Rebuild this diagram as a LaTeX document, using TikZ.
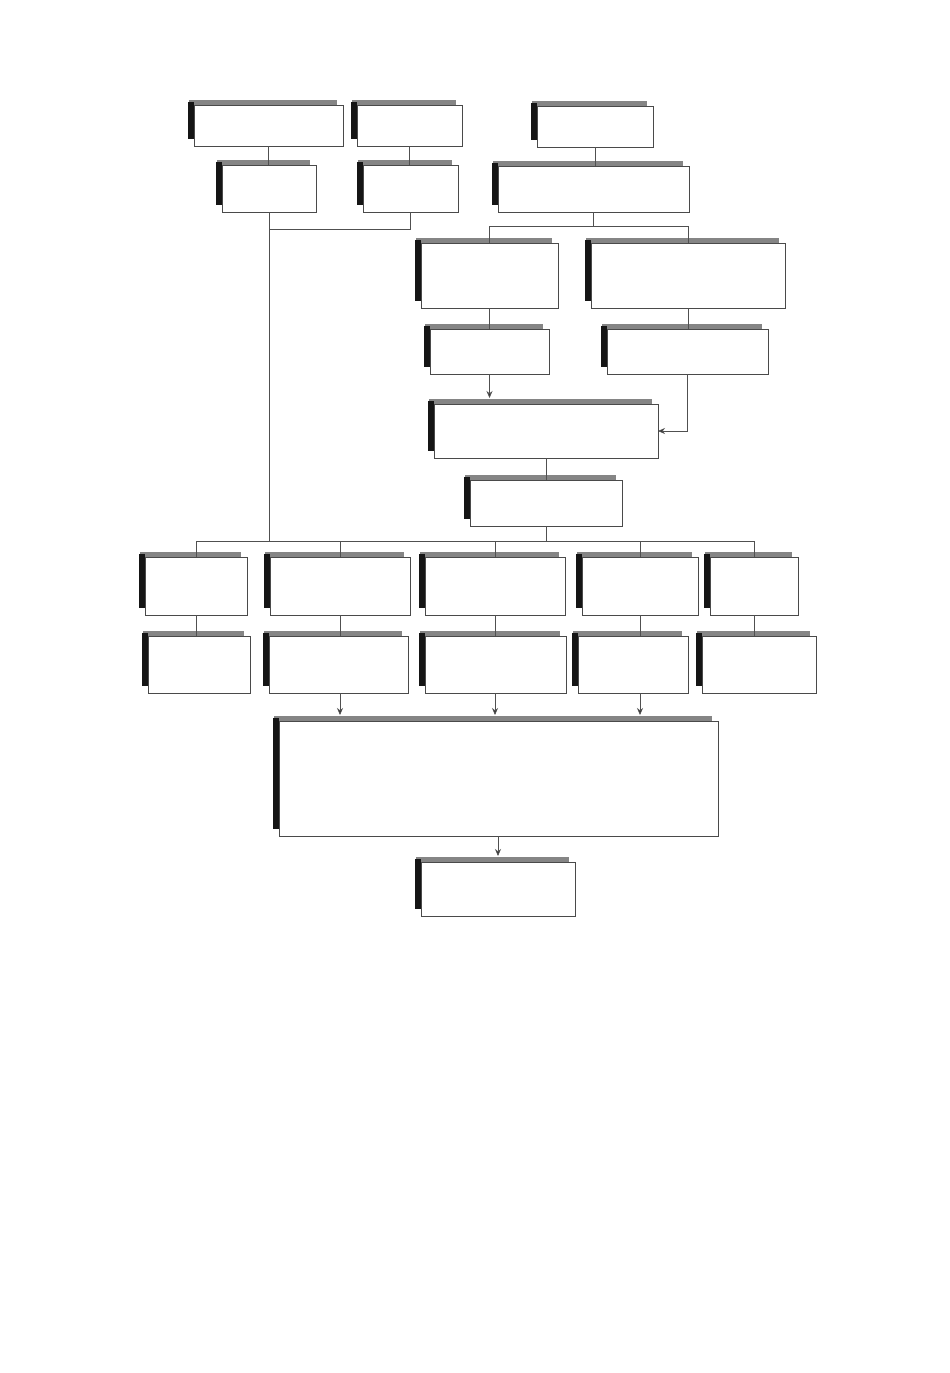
\documentclass[tikz,border=0pt]{standalone}
\usetikzlibrary{arrows.meta}
\definecolor{lncol}{HTML}{505050}
\definecolor{bdcol}{HTML}{4A4A4A}
\definecolor{shtopcol}{HTML}{858585}
\definecolor{shsidecol}{HTML}{151515}
\definecolor{tipcol}{HTML}{333333}
\tikzset{
  bx/.style={draw=bdcol, line width=0.8pt, fill=white, inner sep=0pt, outer sep=0pt, rectangle},
  shtop/.style={fill=shtopcol},
  shside/.style={fill=shsidecol},
  ln/.style={draw=lncol, line width=0.7pt},
  tip/.style={-{Stealth[length=7pt,width=6pt,fill=tipcol]}},
  arr/.style={ln, tip, shorten >=6pt},
}
\newcommand\mkbox[5]{%
  \fill[shtop] ({#2-5},{#3-5}) rectangle ({#4-6},{#3});
  \fill[shside] ({#2-6},{#3-3}) rectangle ({#2},{#5-7});
  \node[bx, minimum width={(#4-#2)*1pt}, minimum height={(#5-#3)*1pt}] (#1) at ({(#2+#4)/2},{(#3+#5)/2}) {};
}
\begin{document}
\begin{tikzpicture}[x=1pt,y=-1pt]
\fill[white] (0,0) rectangle (950,1373);
\useasboundingbox (0,0) rectangle (950,1373);
% boxes
\mkbox{A}{194}{105}{343}{146}
\mkbox{B}{357}{105}{462}{146}
\mkbox{C}{537}{106}{653}{147}
\mkbox{D}{222}{165}{316}{212}
\mkbox{E}{363}{165}{458}{212}
\mkbox{F}{498}{166}{689}{212}
\mkbox{G}{421}{243}{558}{308}
\mkbox{H}{591}{243}{785}{308}
\mkbox{I}{430}{329}{549}{374}
\mkbox{J}{607}{329}{768}{374}
\mkbox{K}{434}{404}{658}{458}
\mkbox{L}{470}{480}{622}{526}
\mkbox{M1}{145}{557}{247}{615}
\mkbox{M2}{270}{557}{410}{615}
\mkbox{M3}{425}{557}{565}{615}
\mkbox{M4}{582}{557}{698}{615}
\mkbox{M5}{710}{557}{798}{615}
\mkbox{N1}{148}{636}{250}{693}
\mkbox{N2}{269}{636}{408}{693}
\mkbox{N3}{425}{636}{566}{693}
\mkbox{N4}{578}{636}{688}{693}
\mkbox{N5}{702}{636}{816}{693}
\mkbox{O}{279}{721}{718}{836}
\mkbox{P}{421}{862}{575}{916}
% junction coordinates
\coordinate (j1) at (0,229);
\coordinate (j2) at (0,226);
\coordinate (bus) at (0,541);
% connectors
\draw[ln] (A.south) -- (A.south |- D.north);
\draw[ln] (B.south) -- (B.south |- E.north);
\draw[ln] (C.south) -- (C.south |- F.north);
\draw[ln] (D.south) -- (D.south |- bus);
\draw[ln] (E.south) |- (D.south |- j1);
\draw[ln] (F.south) -- (F.south |- j2);
\draw[ln] (G.north) |- (j2 -| H.north) -- (H.north);
\draw[ln] (G.south) -- (G.south |- I.north);
\draw[ln] (H.south) -- (H.south |- J.north);
\draw[arr] (I.south) -- (I.south |- K.north);
\draw[ln, tip] (J.south) |- (K.east);
\draw[ln] (K.south) -- (K.south |- L.north);
\draw[ln] (L.south) -- (L.south |- bus);
\draw[ln] (M1.north) |- (M5.north |- bus) -- (M5.north);
\draw[ln] (M2.north) -- (M2.north |- bus);
\draw[ln] (M3.north) -- (M3.north |- bus);
\draw[ln] (M4.north) -- (M4.north |- bus);
\draw[ln] (M1.south) -- (M1.south |- N1.north);
\draw[ln] (M2.south) -- (M2.south |- N2.north);
\draw[ln] (M3.south) -- (M3.south |- N3.north);
\draw[ln] (M4.south) -- (M4.south |- N4.north);
\draw[ln] (M5.south) -- (M5.south |- N5.north);
\draw[arr] (M2.south |- N2.south) -- (M2.south |- O.north);
\draw[arr] (M3.south |- N3.south) -- (M3.south |- O.north);
\draw[arr] (M4.south |- N4.south) -- (M4.south |- O.north);
\draw[arr] (O.south -| P.north) -- (P.north);
\end{tikzpicture}
\end{document}
